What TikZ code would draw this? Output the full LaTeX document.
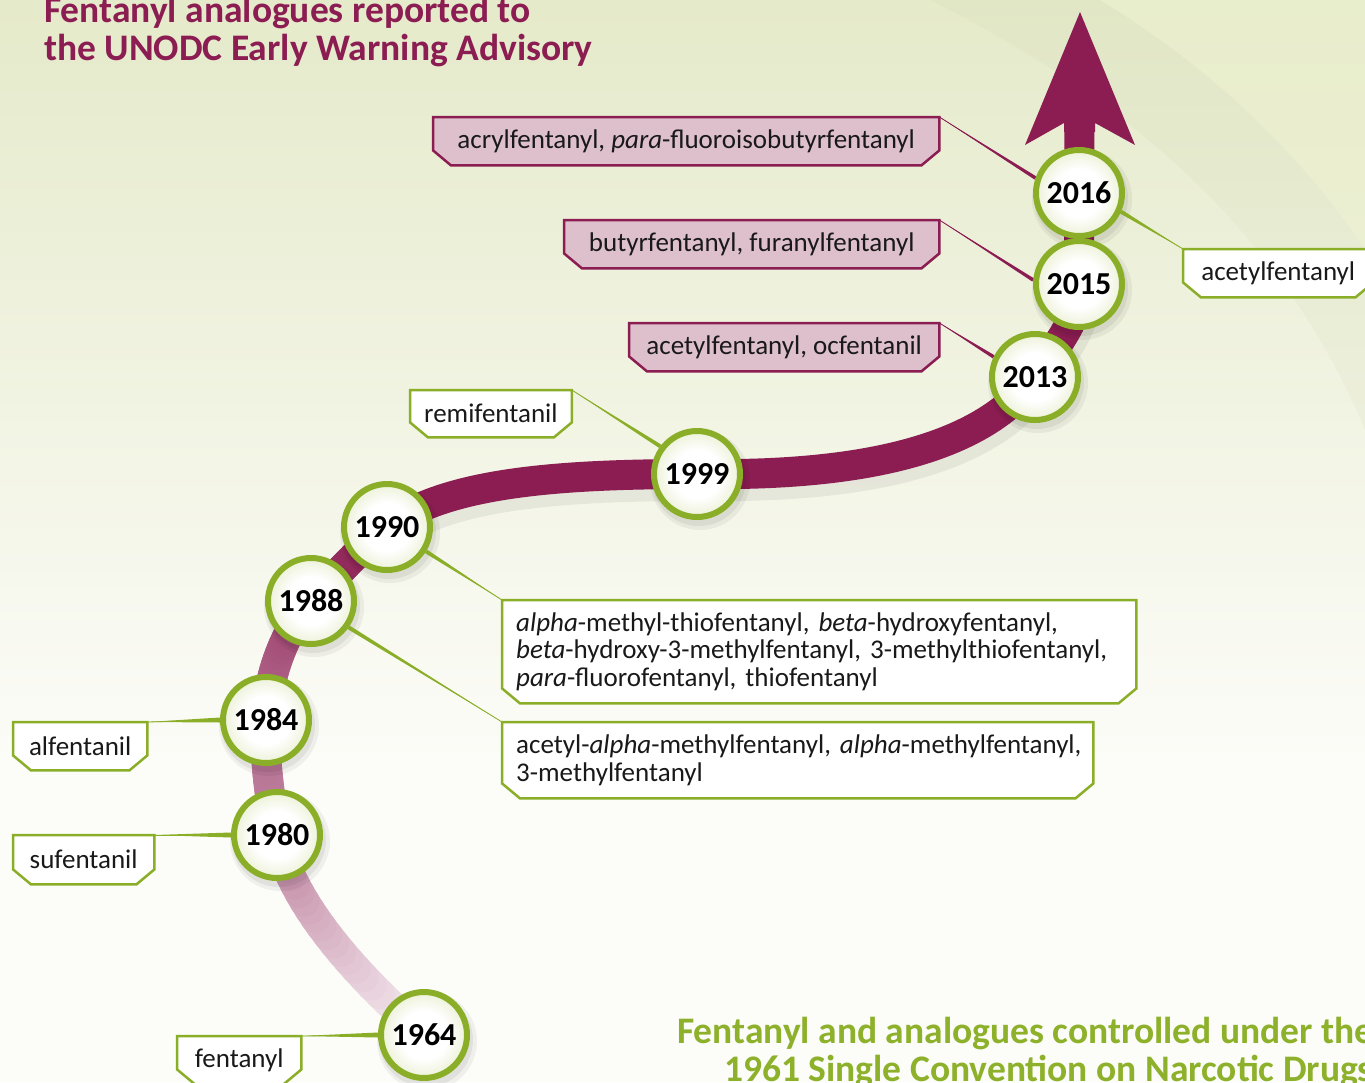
\documentclass[tikz,border=0pt]{standalone}
\usepackage{fontspec}
\setmainfont{Carlito}
\frenchspacing
\usetikzlibrary{calc}
\definecolor{mag}{RGB}{139,29,82}
\definecolor{grn}{RGB}{138,174,40}
\definecolor{gtxt}{RGB}{141,177,42}
\definecolor{pinkf}{RGB}{222,192,204}
\definecolor{ballg}{RGB}{196,213,132}
\definecolor{bgA}{RGB}{229,234,202}
\definecolor{bgC}{RGB}{252,252,248}
\definecolor{bgD}{RGB}{200,210,168}
\definecolor{bgE}{RGB}{236,240,205}
\definecolor{txt}{RGB}{25,25,25}
\pgfdeclareradialshading{ballshade}{\pgfpointorigin}{color(0bp)=(white); color(14bp)=(white); color(48bp)=(ballg); color(75bp)=(ballg)}
\pgfdeclarelayer{bg}\pgfdeclarelayer{mid}\pgfsetlayers{bg,mid,main}
\newcommand\gradpiece[6]{%
  \path #1 .. controls #2 and #3 .. #4
    foreach \k in {0,...,24}{ coordinate[pos=\k/24] (gq\k) };
  \foreach \k in {0,...,23}{%
    \pgfmathtruncatemacro\kn{\k+1}%
    \pgfmathsetmacro\pc{#5+(#6-#5)*(\k+0.5)/24}%
    \draw[line width=30pt, line cap=round, draw=mag!\pc!white] (gq\k) -- (gq\kn);
  }}
\newcommand\chbox[2]{%
  \draw[#2] (#1.north west) -- (#1.north east) -- ([yshift=15pt]#1.south east)
    -- ([xshift=-18pt]#1.south east) -- ([xshift=18pt]#1.south west)
    -- ([yshift=15pt]#1.south west) -- cycle;}
\newcommand\conn[4]{%
  \fill[#1] (#2) -- ($(#3)!#4!90:(#2)$) -- ($(#3)!#4!-90:(#2)$) -- cycle;
  \draw[#1, line width=0.8pt] (#2) -- (#3);}
\begin{document}
\begin{tikzpicture}[x=1pt,y=-1pt,
  year/.style={circle, draw=grn, line width=6pt, minimum size=86pt, inner sep=0pt,
     shade, shading=ballshade, font=\fontsize{32}{34}\selectfont\bfseries, text=black},
  boxtxt/.style={inner xsep=14pt, inner ysep=0pt, anchor=north west, text=txt,
     font=\fontsize{27}{27.5}\selectfont},
  pinkbox/.style={fill=pinkf, draw=mag, line width=2.5pt},
  greenbox/.style={fill=white, draw=grn, line width=2.5pt},
  ttl/.style={anchor=base west, text=mag, font=\fontsize{37.5}{40}\selectfont\bfseries, inner sep=0pt},
  btl/.style={anchor=base west, text=gtxt, font=\fontsize{37.5}{40}\selectfont\bfseries, inner sep=0pt}
]
\useasboundingbox (0,0) rectangle (1365,1082);
\clip (0,0) rectangle (1365,1082);

\foreach \n/\x/\y in {64/424/1035, 80/277/835, 84/266/720, 88/311/601, 90/387/527,
    99/697/474, 13/1035/377, 15/1079/284, 16/1079/193} {\coordinate (p\n) at (\x,\y);}

\begin{pgfonlayer}{bg}
  \fill[bgC] (0,0) rectangle (1365,1082);
  \shade[top color=bgA, bottom color=bgC] (0,0) rectangle (1365,760);
  \fill[bgD, opacity=0.12] (930,0) .. controls (1150,110) and (1290,250) .. (1365,430)
     -- (1365,250) .. controls (1300,150) and (1200,60) .. (1100,0) -- cycle;
  \fill[bgE, opacity=0.5] (1100,0) .. controls (1200,60) and (1300,150) .. (1365,250) -- (1365,0) -- cycle;
  % shadow of the path
  \draw[black, opacity=0.06, line width=40pt] ([shift={(2,7)}]p90) .. controls (447,489) and (562,481) .. (699,481)
     .. controls (832,483) and (977,467) .. (1037,384) .. controls (1062,347) and (1081,327) .. (1081,290);
  % light part of the timeline
  \gradpiece{(p64)}{(350,970)}{(290,900)}{(p80)}{6}{55}
  \gradpiece{(p80)}{(270,800)}{(264,760)}{(p84)}{55}{63}
  \gradpiece{(p84)}{(268,675)}{(285,630)}{(p88)}{63}{85}
  \gradpiece{(p88)}{(335,577)}{(360,548)}{(p90)}{85}{100}
  % dark part
  \draw[mag, line width=30pt] (p90) .. controls (445,482) and (560,474) .. (p99)
     .. controls (830,476) and (975,460) .. (p13) .. controls (1060,340) and (1079,320) .. (p15)
     -- (1079.5,124);
  \fill[mag] (1064,132) -- (1064,123) -- (1025,145) -- (1080,12) -- (1135,145) -- (1095,123) -- (1095,132) -- cycle;
\end{pgfonlayer}

% year circles
\node[year] (c64) at (p64) {1964};
\node[year] (c80) at (p80) {1980};
\node[year] (c84) at (p84) {1984};
\node[year] (c88) at (p88) {1988};
\node[year] (c90) at (p90) {1990};
\node[year] (c99) at (p99) {1999};
\node[year] (c13) at (p13) {2013};
\node[year] (c15) at (p15) {2015};
\node[year] (c16) at (p16) {2016};

% label texts
\node[boxtxt, minimum width=506pt, minimum height=48pt] (b16) at (433,117) {acrylfentanyl, \textit{para}-fluoroisobutyrfentanyl};
\node[boxtxt, minimum width=375pt, minimum height=48pt] (b15) at (564,220) {butyrfentanyl, furanylfentanyl};
\node[boxtxt, minimum width=310pt, minimum height=48pt] (b13) at (629,323) {acetylfentanyl, ocfentanil};
\node[boxtxt, minimum width=161pt, minimum height=47pt] (b99) at (410,390) {remifentanil};
\node[boxtxt, minimum width=190pt, minimum height=48pt] (b16r) at (1183,249) {acetylfentanyl};
\node[boxtxt, text width=606pt, minimum height=103pt, align=left] (b90) at (502,600)
  {\mbox{\textit{alpha}-methyl-thiofentanyl, \textit{beta}-hydroxyfentanyl,}\\
   \mbox{\textit{beta}-hydroxy-3-methylfentanyl, 3-methylthiofentanyl,}\\
   \mbox{\textit{para}-fluorofentanyl, thiofentanyl}};
\node[boxtxt, text width=563pt, minimum height=76pt, align=left] (b88) at (502,722)
  {\mbox{acetyl-\textit{alpha}-methylfentanyl, \textit{alpha}-methylfentanyl,}\\ \mbox{3-methylfentanyl}};
\node[boxtxt, minimum width=134pt, minimum height=48pt] (b84) at (13,722) {alfentanil};
\node[boxtxt, minimum width=141pt, minimum height=49pt] (b80) at (13,835) {sufentanil};
\node[boxtxt, minimum width=124pt, minimum height=48pt] (b64) at (177,1036) {fentanyl};

\begin{pgfonlayer}{mid}
  % circle shadows
  \foreach \n in {64,80,84,88,90,99,13,15,16}{
    \fill[black, opacity=0.05] ($(p\n)+(3,6)$) circle (50pt);
    \fill[black, opacity=0.06] ($(p\n)+(2,5)$) circle (47pt);
  }
  % connectors
  \conn{mag}{b16.north east}{c16.161}{1.8pt}
  \conn{mag}{b15.north east}{c15.175}{1.8pt}
  \conn{mag}{b13.north east}{c13.154}{1.8pt}
  \conn{grn}{b99.north east}{c99.143}{2pt}
  \conn{grn}{b16r.north west}{c16.336}{2pt}
  \conn{grn}{b90.north west}{c90.328}{2pt}
  \conn{grn}{b88.north west}{c88.325}{2pt}
  \conn{grn}{b84.north east}{c84.180}{2.5pt}
  \conn{grn}{b80.north east}{c80.180}{2.5pt}
  \conn{grn}{b64.north east}{c64.180}{2.5pt}
  % boxes
  \chbox{b16}{pinkbox}
  \chbox{b15}{pinkbox}
  \chbox{b13}{pinkbox}
  \chbox{b99}{greenbox}
  \chbox{b16r}{greenbox}
  \chbox{b90}{greenbox}
  \chbox{b88}{greenbox}
  \chbox{b84}{greenbox}
  \chbox{b80}{greenbox}
  \chbox{b64}{greenbox}
\end{pgfonlayer}

% titles
\node[ttl] (t1) at (44,22) {Fentanyl analogues reported to};
\node[ttl] (t2) at (44,60) {the UNODC Early Warning Advisory};
\node[btl] (u1) at (677,1043) {Fentanyl and analogues controlled under the};
\node[btl] (u2) at (724,1081) {1961 Single Convention on Narcotic Drugs};
\end{tikzpicture}
\end{document}
